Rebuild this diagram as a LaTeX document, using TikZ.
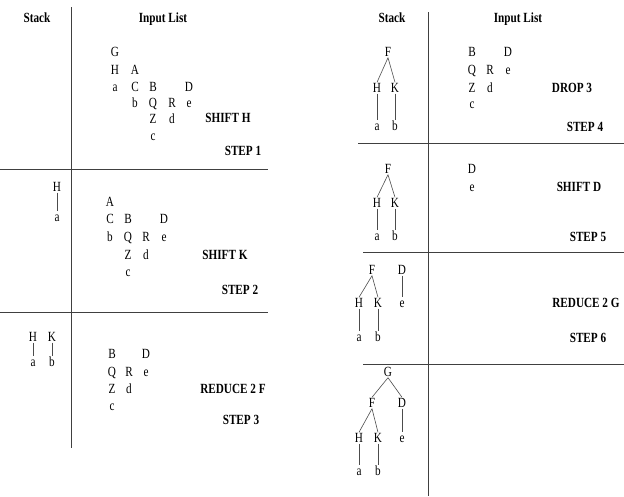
\documentclass[tikz,border=0pt]{standalone}
\usepackage{fontspec}
\newfontfamily\lf[FakeStretch=0.8]{Liberation Serif}
\begin{document}
\begin{tikzpicture}[x=1pt,y=-1pt,
  lt/.style={font=\lf\fontsize{14}{14}\selectfont, inner sep=1pt, text height=9pt, text depth=0pt},
  lbl/.style={font=\lf\bfseries\fontsize{14}{14}\selectfont, inner sep=1pt, text height=9pt, text depth=0pt},
  sep/.style={draw=black!75, line width=0.9pt},
  edge/.style={draw=black!70, line width=0.6pt}]
\useasboundingbox (0,0) rectangle (624,496);
% separators
\draw[sep] (71,7) -- (71,448);
\draw[sep] (0,169) -- (268,169);
\draw[sep] (0,312) -- (268,312);
\draw[sep] (428,12) -- (428,496);
\draw[sep] (358,143) -- (624,143);
\draw[sep] (363,252) -- (624,252);
\draw[sep] (363,364) -- (624,364);
% headers
\node[lbl] (hs1) at (37,18) {Stack};
\node[lbl] (hi1) at (163,18) {Input List};
\node[lbl] (hs2) at (392,18) {Stack};
\node[lbl] (hi2) at (518,18) {Input List};
% ---- step 1
\node[lt] (s1G) at (115,52) {G};
\node[lt] (s1H) at (115,70) {H};
\node[lt] (s1A) at (135,70) {A};
\node[lt] (s1a) at (115,87) {a};
\node[lt] (s1C) at (135,87) {C};
\node[lt] (s1B) at (153,87) {B};
\node[lt] (s1D) at (189,87) {D};
\node[lt] (s1b) at (135,103) {b};
\node[lt] (s1Q) at (153,103) {Q};
\node[lt] (s1R) at (172,103) {R};
\node[lt] (s1e) at (189,103) {e};
\node[lt] (s1Z) at (153,119) {Z};
\node[lt] (s1d) at (172,119) {d};
\node[lt] (s1c) at (153,136) {c};
\node[lbl] (op1) at (228,118) {SHIFT H};
\node[lbl] (st1) at (243,151) {STEP 1};
% ---- step 2
\node[lt] (t2H) at (57,187) {H};
\node[lt] (t2a) at (57,217) {a};
\draw[edge] (t2H) -- (t2a);
\node[lt] (s2A) at (110,202) {A};
\node[lt] (s2C) at (110,219) {C};
\node[lt] (s2B) at (128,219) {B};
\node[lt] (s2D) at (164,219) {D};
\node[lt] (s2b) at (110,237) {b};
\node[lt] (s2Q) at (128,237) {Q};
\node[lt] (s2R) at (146,237) {R};
\node[lt] (s2e) at (164,237) {e};
\node[lt] (s2Z) at (128,255) {Z};
\node[lt] (s2d) at (146,255) {d};
\node[lt] (s2c) at (128,272) {c};
\node[lbl] (op2) at (225,255) {SHIFT K};
\node[lbl] (st2) at (240,290) {STEP 2};
% ---- step 3
\node[lt] (t3H) at (33,337) {H};
\node[lt] (t3K) at (52,337) {K};
\node[lt] (t3a) at (33,362) {a};
\node[lt] (t3b) at (52,362) {b};
\draw[edge] (t3H) -- (t3a);
\draw[edge] (t3K) -- (t3b);
\node[lt] (s3B) at (112,354) {B};
\node[lt] (s3D) at (146,354) {D};
\node[lt] (s3Q) at (112,372) {Q};
\node[lt] (s3R) at (129,372) {R};
\node[lt] (s3e) at (146,372) {e};
\node[lt] (s3Z) at (112,389) {Z};
\node[lt] (s3d) at (129,389) {d};
\node[lt] (s3c) at (112,406) {c};
\node[lbl] (op3) at (233,389) {REDUCE 2 F};
\node[lbl] (st3) at (241,420) {STEP 3};
% ---- step 4
\node[lt] (t4F) at (388,52) {F};
\node[lt] (t4H) at (377,88) {H};
\node[lt] (t4K) at (395,88) {K};
\node[lt] (t4a) at (377,126) {a};
\node[lt] (t4b) at (395,126) {b};
\draw[edge] (t4F.south) -- (t4H.north);
\draw[edge] (t4F.south) -- (t4K.north);
\draw[edge] (t4H) -- (t4a);
\draw[edge] (t4K) -- (t4b);
\node[lt] (s4B) at (472,52) {B};
\node[lt] (s4D) at (508,52) {D};
\node[lt] (s4Q) at (472,70) {Q};
\node[lt] (s4R) at (490,70) {R};
\node[lt] (s4e) at (508,70) {e};
\node[lt] (s4Z) at (472,88) {Z};
\node[lt] (s4d) at (490,88) {d};
\node[lt] (s4c) at (472,104) {c};
\node[lbl] (op4) at (572,88) {DROP 3};
\node[lbl] (st4) at (585,127) {STEP 4};
% ---- step 5
\node[lt] (t5F) at (388,169) {F};
\node[lt] (t5H) at (377,203) {H};
\node[lt] (t5K) at (395,203) {K};
\node[lt] (t5a) at (377,236) {a};
\node[lt] (t5b) at (395,236) {b};
\draw[edge] (t5F.south) -- (t5H.north);
\draw[edge] (t5F.south) -- (t5K.north);
\draw[edge] (t5H) -- (t5a);
\draw[edge] (t5K) -- (t5b);
\node[lt] (s5D) at (472,169) {D};
\node[lt] (s5e) at (472,187) {e};
\node[lbl] (op5) at (579,187) {SHIFT D};
\node[lbl] (st5) at (588,237) {STEP 5};
% ---- step 6
\node[lt] (t6F) at (372,270) {F};
\node[lt] (t6D) at (402,270) {D};
\node[lt] (t6H) at (359,303) {H};
\node[lt] (t6K) at (378,303) {K};
\node[lt] (t6e) at (402,303) {e};
\node[lt] (t6a) at (359,337) {a};
\node[lt] (t6b) at (378,337) {b};
\draw[edge] (t6F.south) -- (t6H.north);
\draw[edge] (t6F.south) -- (t6K.north);
\draw[edge] (t6H) -- (t6a);
\draw[edge] (t6K) -- (t6b);
\draw[edge] (t6D) -- (t6e);
\node[lbl] (op6) at (586,303) {REDUCE 2 G};
\node[lbl] (st6) at (588,338) {STEP 6};
% ---- step 7
\node[lt] (t7G) at (388,372) {G};
\node[lt] (t7F) at (372,403) {F};
\node[lt] (t7D) at (402,403) {D};
\node[lt] (t7H) at (359,438) {H};
\node[lt] (t7K) at (378,438) {K};
\node[lt] (t7e) at (402,438) {e};
\node[lt] (t7a) at (359,471) {a};
\node[lt] (t7b) at (378,471) {b};
\draw[edge] (t7G.south) -- (t7F.north);
\draw[edge] (t7G.south) -- (t7D.north);
\draw[edge] (t7F.south) -- (t7H.north);
\draw[edge] (t7F.south) -- (t7K.north);
\draw[edge] (t7H) -- (t7a);
\draw[edge] (t7K) -- (t7b);
\draw[edge] (t7D) -- (t7e);
\end{tikzpicture}
\end{document}
